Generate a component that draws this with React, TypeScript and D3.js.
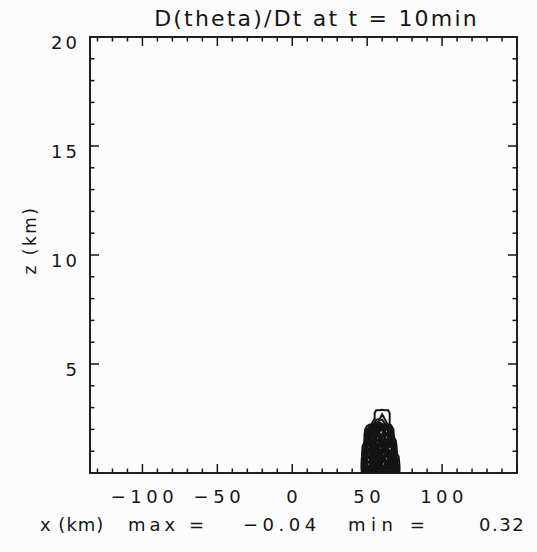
import React, { useEffect, useRef } from "react";
import * as d3 from "d3";

// text
const title = "D(theta)/Dt at t = 10min";
const yTitle = "z (km)";
const footerText = ["x (km)", "max =", "\u22120.04", "min =", "0.32"];

// axes
const xDomain = [-135, 150];
const zDomain = [0, 20];
const xTickLabels = [-100, -50, 0, 50, 100];
const yTickLabels = [5, 10, 15, 20];

const gridX = [44, 46, 48, 50, 52, 54, 56, 58, 60, 62, 64, 66, 68, 70, 72];
const gridZ = [0, 0.25, 0.5, 0.75, 1.0, 1.25, 1.5, 1.75, 2.0, 2.25, 2.5, 2.75, 3.0, 3.25];
const field = [
  [0, 0, 0.05, 0.18, 0.30, 0.12, 0.26, 0.32, 0.10, 0.28, 0.20, 0.24, 0.14, 0.04, 0],
  [0, 0, 0.12, 0.28, 0.08, 0.30, 0.16, 0.22, 0.31, 0.12, 0.29, 0.15, 0.22, 0.06, 0],
  [0, 0, 0.08, 0.22, 0.27, 0.14, 0.32, 0.18, 0.26, 0.30, 0.11, 0.27, 0.12, 0.03, 0],
  [0, 0, 0.04, 0.26, 0.12, 0.29, 0.20, 0.31, 0.09, 0.24, 0.28, 0.16, 0.10, 0.02, 0],
  [0, 0, 0.03, 0.20, 0.30, 0.17, 0.27, 0.13, 0.32, 0.19, 0.25, 0.20, 0.08, 0, 0],
  [0, 0, 0.02, 0.24, 0.15, 0.31, 0.10, 0.28, 0.21, 0.30, 0.14, 0.22, 0.05, 0, 0],
  [0, 0, 0, 0.15, 0.28, 0.19, 0.30, 0.24, 0.12, 0.26, 0.22, 0.12, 0.02, 0, 0],
  [0, 0, 0, 0.10, 0.22, 0.27, 0.14, 0.31, 0.25, 0.18, 0.27, 0.08, 0, 0, 0],
  [0, 0, 0, 0.03, 0.12, 0.20, 0.26, 0.16, 0.28, 0.20, 0.14, 0.04, 0, 0, 0],
  [0, 0, 0, 0, 0, 0.02, 0.06, 0.09, 0.07, 0.05, 0.02, 0, 0, 0, 0],
  [0, 0, 0, 0, 0, 0, 0.02, 0.025, 0.045, 0.025, 0.02, 0, 0, 0, 0],
  [0, 0, 0, 0, 0, 0, 0.02, 0.02, 0.025, 0.02, 0.02, 0, 0, 0, 0],
  [0, 0, 0, 0, 0, 0, 0, 0, 0, 0, 0, 0, 0, 0, 0],
  [0, 0, 0, 0, 0, 0, 0, 0, 0, 0, 0, 0, 0, 0, 0],
];
const levels = [0.01, 0.03, 0.05, 0.07, 0.09, 0.11, 0.13, 0.15, 0.17, 0.19, 0.21, 0.23, 0.25, 0.27, 0.29, 0.31];

const W = 537, H = 552;
const margin = { top: 37, right: 20, bottom: 79, left: 90 };
const ink = "#151515";
const font = "'DejaVu Sans', sans-serif";

export default function App() {
  const ref = useRef<SVGSVGElement>(null);

  useEffect(() => {
    const svg = d3.select(ref.current);
    svg.selectAll("*").remove();
    const w = W - margin.left - margin.right;
    const h = H - margin.top - margin.bottom;

    const x = d3.scaleLinear().domain(xDomain).range([margin.left, margin.left + w]);
    const y = d3.scaleLinear().domain(zDomain).range([margin.top + h, margin.top]);

    svg.append("rect").attr("width", W).attr("height", H).attr("fill", "#fcfcfc");

    svg.append("clipPath").attr("id", "plotclip")
      .append("rect")
      .attr("x", margin.left).attr("y", margin.top)
      .attr("width", w).attr("height", h);

    // contours
    const nx = gridX.length, nz = gridZ.length;
    const dx = gridX[1] - gridX[0], dz = gridZ[1] - gridZ[0];
    const contours = d3.contours().size([nx, nz]).thresholds(levels)(field.flat());
    const proj = d3.geoTransform({
      point(px: number, pz: number) {
        this.stream.point(x(gridX[0] + (px - 0.5) * dx), y(gridZ[0] + (pz - 0.5) * dz));
      },
    });
    const path = d3.geoPath(proj);
    svg.append("g").attr("clip-path", "url(#plotclip)")
      .selectAll("path")
      .data(contours)
      .join("path")
      .attr("d", (d: any) => path(d))
      .attr("fill", "none")
      .attr("stroke", ink)
      .attr("stroke-width", 2);

    // frame
    svg.append("rect")
      .attr("x", margin.left).attr("y", margin.top)
      .attr("width", w).attr("height", h)
      .attr("fill", "none").attr("stroke", ink).attr("stroke-width", 1.9);

    // ticks, IDL style: inward on all four sides
    const xMinor = d3.range(-130, xDomain[1] + 1, 10);
    const yMinor = d3.range(zDomain[0] + 1, zDomain[1], 1);
    const tk = svg.append("g").attr("stroke", ink).attr("stroke-width", 1.5);
    xMinor.forEach((v) => {
      const len = v % 50 === 0 ? 9 : 4.5;
      tk.append("line").attr("x1", x(v)).attr("x2", x(v)).attr("y1", margin.top + h).attr("y2", margin.top + h - len);
      tk.append("line").attr("x1", x(v)).attr("x2", x(v)).attr("y1", margin.top).attr("y2", margin.top + len);
    });
    yMinor.forEach((v) => {
      const len = v % 5 === 0 ? 9 : 4.5;
      tk.append("line").attr("y1", y(v)).attr("y2", y(v)).attr("x1", margin.left).attr("x2", margin.left + len);
      tk.append("line").attr("y1", y(v)).attr("y2", y(v)).attr("x1", margin.left + w).attr("x2", margin.left + w - len);
    });

    const fmt = x.tickFormat();
    svg.append("g").selectAll("text").data(xTickLabels).join("text")
      .attr("x", (d) => x(d) + 2).attr("y", margin.top + h + 30)
      .attr("text-anchor", "middle")
      .attr("font-family", font).attr("font-size", 18).attr("letter-spacing", 4.5)
      .attr("fill", ink)
      .text((d) => fmt(d));

    svg.append("g").selectAll("text").data(yTickLabels).join("text")
      .attr("x", margin.left - 10).attr("y", (d) => y(d) + 12)
      .attr("text-anchor", "end")
      .attr("font-family", font).attr("font-size", 18).attr("letter-spacing", 3)
      .attr("fill", ink)
      .text((d) => d);

    svg.append("text")
      .attr("x", (margin.left + w / 2) + 13).attr("y", 26)
      .attr("text-anchor", "middle")
      .attr("font-family", font).attr("font-size", 22).attr("letter-spacing", 2.2)
      .attr("fill", ink)
      .text(title);

    svg.append("text")
      .attr("transform", `translate(36, 240) rotate(-90)`)
      .attr("text-anchor", "middle")
      .attr("font-family", font).attr("font-size", 17).attr("letter-spacing", 2.5)
      .attr("fill", ink)
      .text(yTitle);

    const footerX = [40, 128, 243, 348, 479];
    const footerSpacing = [1, 4, 4.5, 5.5, 1.5];
    svg.append("g").selectAll("text").data(footerText).join("text")
      .attr("x", (d, i) => footerX[i]).attr("y", 531)
      .attr("font-family", font).attr("font-size", 18)
      .attr("letter-spacing", (d, i) => footerSpacing[i])
      .attr("fill", ink)
      .text((d) => d);
  }, []);

  return (
    <svg ref={ref} width={W} height={H}
      style={{ position: "absolute", left: 0, top: 0, background: "#fff" }} />
  );
}
